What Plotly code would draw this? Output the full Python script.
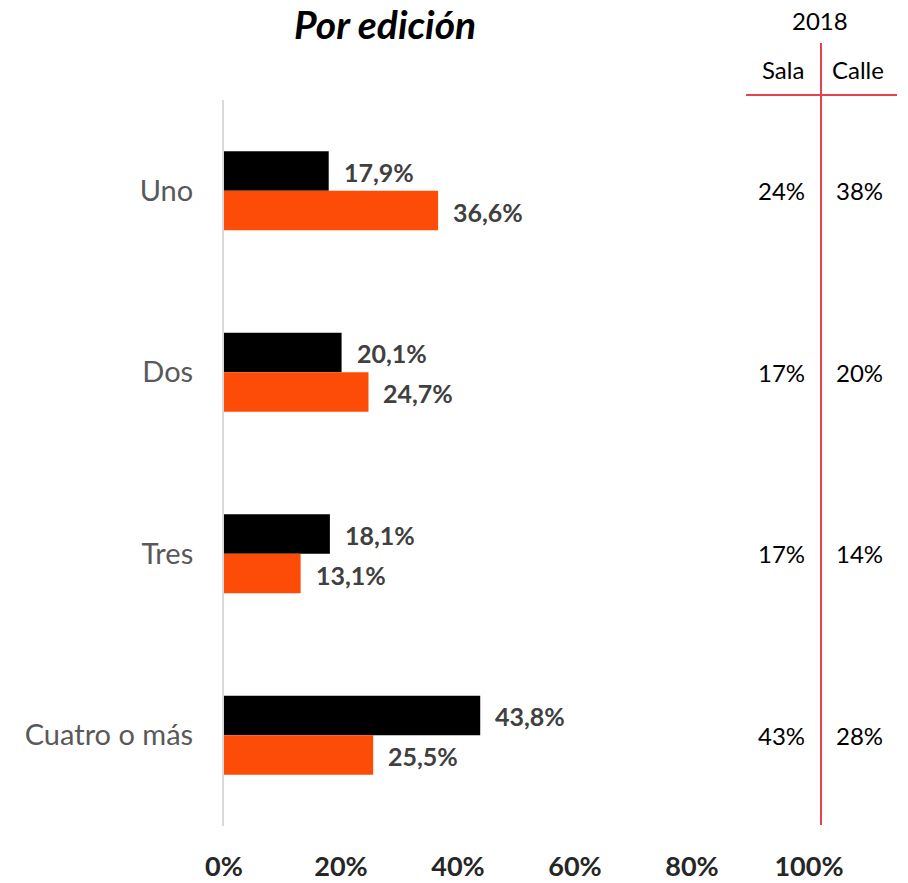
import plotly.graph_objects as go

categories = ["Uno", "Dos", "Tres", "Cuatro o más"]
serie_negra = [17.9, 20.1, 18.1, 43.8]
serie_naranja = [36.6, 24.7, 13.1, 25.5]
sala_2018 = ["24%", "17%", "17%", "43%"]
calle_2018 = ["38%", "20%", "14%", "28%"]
x_ticks = [0, 20, 40, 60, 80, 100]
x_tick_text = ["0%", "20%", "40%", "60%", "80%", "100%"]

FONT = "Lato"
W, H = 908, 883
L, R, T, B = 224, 99, 100, 57
PW, PH = W - L - R, H - T - B

def px_x(px):
    return (px - L) / PW

def px_y(py):
    return (H - B - py) / PH

fig = go.Figure()
fig.add_trace(go.Bar(y=categories, x=serie_negra, orientation="h",
                     marker=dict(color="#000000", line=dict(width=0)), name="A"))
fig.add_trace(go.Bar(y=categories, x=serie_naranja, orientation="h",
                     marker=dict(color="#FC4C07", line=dict(width=0)), name="B"))

ann = []
for c, v in zip(categories, serie_negra):
    ann.append(dict(x=v, y=c, xref="x", yref="y", text=f"{v:.1f}%".replace(".", ","),
                    showarrow=False, xanchor="left", yanchor="middle", xshift=13, yshift=19,
                    font=dict(family=FONT, size=25, color="#404040", weight="bold")))
for c, v in zip(categories, serie_naranja):
    ann.append(dict(x=v, y=c, xref="x", yref="y", text=f"{v:.1f}%".replace(".", ","),
                    showarrow=False, xanchor="left", yanchor="middle", xshift=13, yshift=-21,
                    font=dict(family=FONT, size=25, color="#404040", weight="bold")))
for c, s, k in zip(categories, sala_2018, calle_2018):
    ann.append(dict(x=px_x(781), y=c, xref="paper", yref="y", text=s, showarrow=False,
                    xanchor="center", yanchor="middle",
                    font=dict(family=FONT, size=24, color="#000000")))
    ann.append(dict(x=px_x(859), y=c, xref="paper", yref="y", text=k, showarrow=False,
                    xanchor="center", yanchor="middle",
                    font=dict(family=FONT, size=24, color="#000000")))
ann.append(dict(x=px_x(820), y=px_y(20), xref="paper", yref="paper", text="2018",
                showarrow=False, xanchor="center", yanchor="middle",
                font=dict(family=FONT, size=24, color="#000000")))
ann.append(dict(x=px_x(783), y=px_y(70), xref="paper", yref="paper", text="Sala",
                showarrow=False, xanchor="center", yanchor="middle",
                font=dict(family=FONT, size=24, color="#000000")))
ann.append(dict(x=px_x(858), y=px_y(70), xref="paper", yref="paper", text="Calle",
                showarrow=False, xanchor="center", yanchor="middle",
                font=dict(family=FONT, size=24, color="#000000")))
ann.append(dict(x=px_x(385), y=px_y(24), xref="paper", yref="paper", text="<i>Por edición</i>",
                showarrow=False, xanchor="center", yanchor="middle",
                font=dict(family=FONT, size=39, color="#000000", weight="bold")))

shapes = [
    dict(type="line", xref="paper", yref="paper", x0=px_x(821), x1=px_x(821),
         y0=px_y(43), y1=px_y(825), line=dict(color="#E8404F", width=2)),
    dict(type="line", xref="paper", yref="paper", x0=px_x(746), x1=px_x(897),
         y0=px_y(95), y1=px_y(95), line=dict(color="#E8404F", width=2)),
]

fig.update_layout(
    width=W, height=H, margin=dict(l=L, r=R, t=T, b=B, autoexpand=False),
    paper_bgcolor="white", plot_bgcolor="white",
    barmode="group", bargap=0.564, bargroupgap=0,
    showlegend=False, annotations=ann, shapes=shapes,
    xaxis=dict(range=[0, 100], tickvals=x_ticks, ticktext=x_tick_text, showgrid=False,
               zeroline=False, showline=False, ticks="", ticklabelstandoff=22,
               automargin=False,
               tickfont=dict(family=FONT, size=27, color="#262626", weight="bold")),
    yaxis=dict(categoryorder="array", categoryarray=categories, autorange="reversed",
               showgrid=False, zeroline=False, showline=True, linecolor="#D9D9D9",
               linewidth=2, ticks="", ticklabelstandoff=23, automargin=False,
               tickfont=dict(family=FONT, size=29, color="#595959")),
)

fig.write_html("out.html", config={"displayModeBar": False},
               post_script="document.body.style.margin='0';document.body.style.overflow='hidden';")
